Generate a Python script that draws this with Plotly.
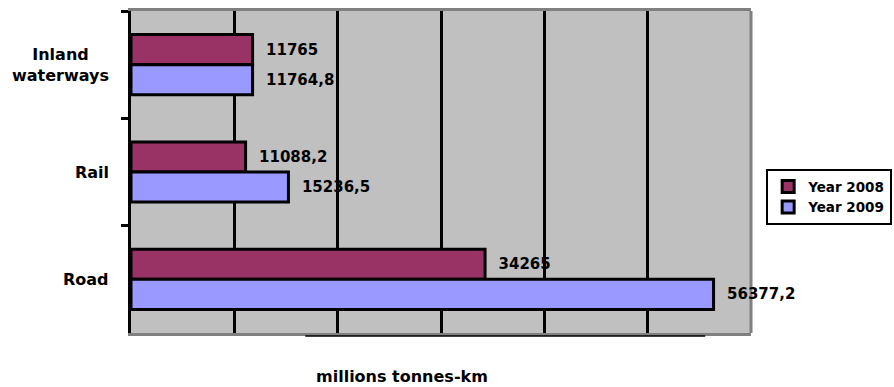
import plotly.graph_objects as go

# Freight transport performance by mode (millions tonnes-km)
modes = ["Inland waterways", "Rail", "Road"]
mode_labels = ["Inland<br>waterways", "Rail", "Road"]
years = ["Year 2008", "Year 2009"]
values_2008 = [11765, 11088.2, 34265]
values_2009 = [11764.8, 15236.5, 56377.2]
x_ticks = [0, 10000, 20000, 30000, 40000, 50000, 60000]

colors = ["#993366", "#9999FF"]
FONT = "DejaVu Sans"


def fmt(v):
    """Decimal comma, no trailing ,0 for whole numbers."""
    if float(v).is_integer():
        return str(int(v))
    return f"{v:.1f}".replace(".", ",")


fig = go.Figure()
for name, vals, col in zip(years, [values_2008, values_2009], colors):
    fig.add_trace(go.Bar(
        name=name,
        y=modes,
        x=vals,
        orientation="h",
        marker=dict(color=col, line=dict(color="black", width=3)),
        text=[fmt(v) for v in vals],
        texttemplate="\u00a0\u00a0%{text}",
        textposition="outside",
        constraintext="none",
        cliponaxis=False,
        textfont=dict(family=FONT, size=15, color="black", weight="bold"),
        hoverinfo="skip",
    ))

# category labels, centred line by line
annotations = [
    dict(text=f"<b>{lab}</b>", x=0, xref="paper", y=cat, yref="y",
         xanchor="right", yanchor="middle", xshift=-20, align="center",
         showarrow=False, font=dict(family=FONT, size=16, color="black"))
    for cat, lab in zip(modes, mode_labels)
]
annotations.append(dict(
    text="<b>millions tonnes-km</b>", x=0.437, xref="paper", y=-0.135,
    yref="paper", xanchor="center", yanchor="middle", showarrow=False,
    font=dict(family=FONT, size=16, color="black")))

fig.update_layout(
    width=894,
    height=387,
    margin=dict(l=131, r=143, t=8, b=54),
    paper_bgcolor="white",
    plot_bgcolor="#C0C0C0",
    barmode="group",
    bargap=0.44,
    bargroupgap=0,
    showlegend=True,
    legend=dict(
        xref="container", yref="container",
        x=0.857, xanchor="left", y=0.563, yanchor="top",
        bgcolor="white", bordercolor="black", borderwidth=2,
        font=dict(family=FONT, size=13.5, color="black", weight="bold"),
        itemwidth=30, tracegroupgap=0,
    ),
    xaxis=dict(
        range=[x_ticks[0], x_ticks[-1]],
        tickvals=x_ticks,
        showticklabels=False,
        ticks="",
        showgrid=True, gridcolor="black", gridwidth=2.5,
        zeroline=False,
        showline=True, linecolor="#808080", linewidth=3, mirror=True,
    ),
    yaxis=dict(
        type="category",
        categoryorder="array", categoryarray=modes,
        autorange="reversed",
        showticklabels=False,
        ticks="outside", tickson="boundaries", ticklen=7, tickwidth=3,
        tickcolor="black",
        showgrid=False, zeroline=False,
        showline=True, linecolor="black", linewidth=3,
    ),
    annotations=annotations,
    shapes=[
        # right frame edge
        dict(type="line", xref="paper", yref="paper", x0=1, x1=1, y0=0, y1=1,
             line=dict(color="#808080", width=3), layer="below"),
        # thin rule under the axis
        dict(type="line", xref="paper", yref="paper", x0=0.281, x1=0.926,
             y0=-0.009, y1=-0.009, line=dict(color="black", width=1.5)),
    ],
)

fig.write_html("out.html")
